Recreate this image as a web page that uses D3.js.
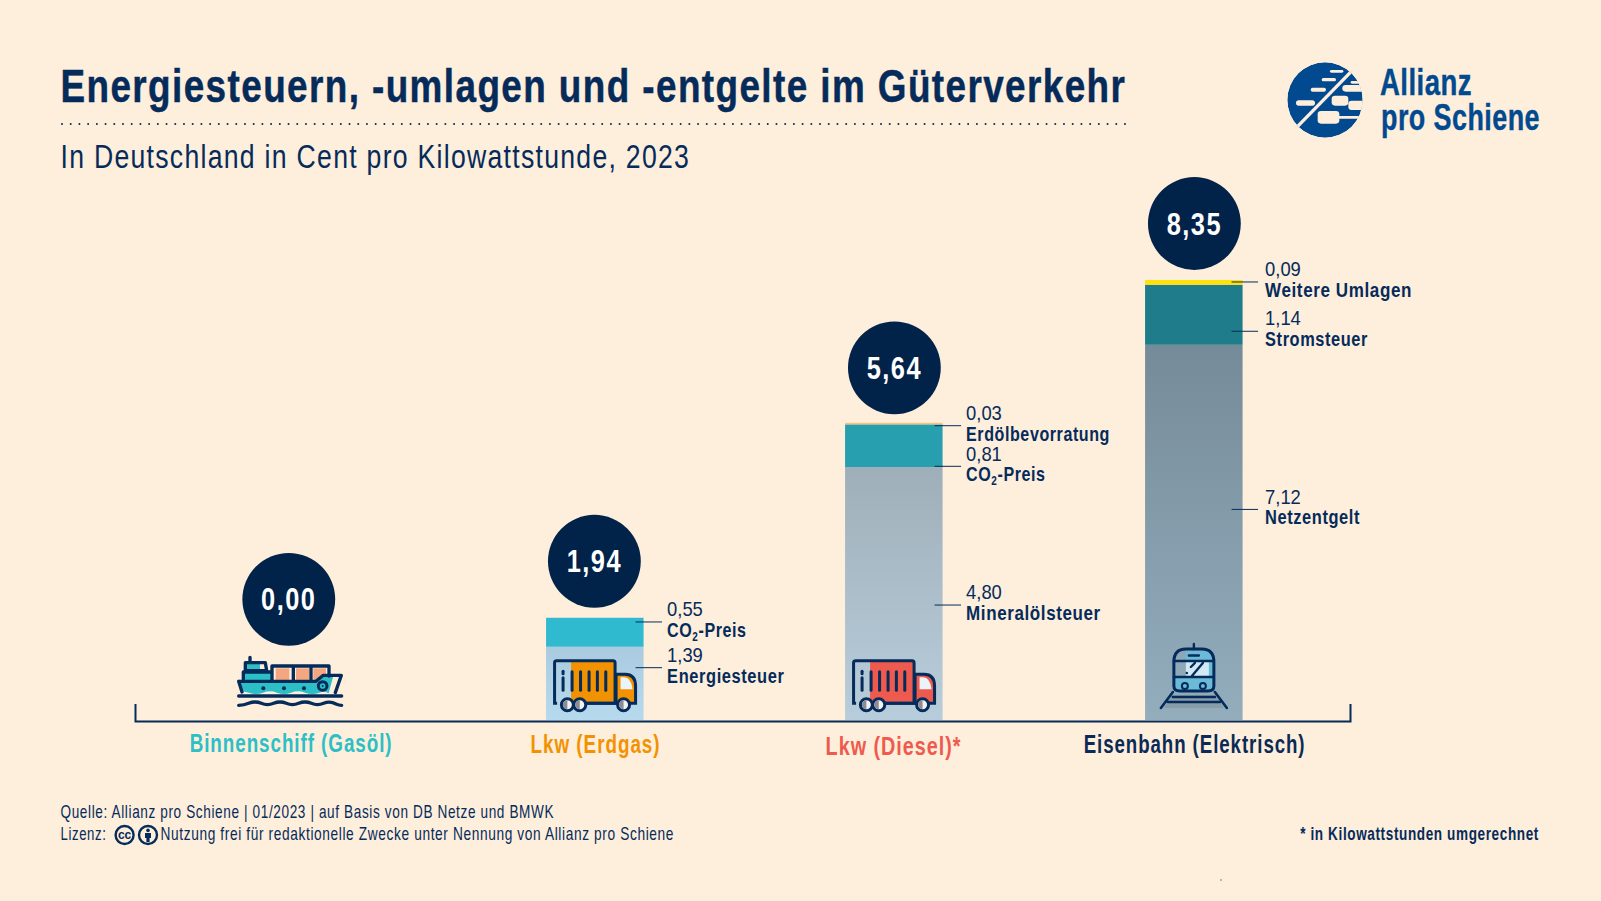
<!DOCTYPE html>
<html lang="de">
<head>
<meta charset="utf-8">
<title>Energiesteuern im Güterverkehr</title>
<script src="https://cdn.jsdelivr.net/npm/d3@7"></script>
<style>
  html, body { margin: 0; padding: 0; background: #feeedc; }
  svg { display: block; }
  text { font-family: "Liberation Sans", sans-serif; }
</style>
</head>
<body>
<div id="chart"></div>
<script>
// data
// ------------------------------
var categories = ["Binnenschiff (Gasöl)", "Lkw (Erdgas)", "Lkw (Diesel)*", "Eisenbahn (Elektrisch)"];
var totals = [0.00, 1.94, 5.64, 8.35];

var erdgasNames = ["Energiesteuer", "CO2-Preis"];
var erdgasValues = [1.39, 0.55];

var dieselNames = ["Mineralölsteuer", "CO2-Preis", "Erdölbevorratung"];
var dieselValues = [4.80, 0.81, 0.03];

var bahnNames = ["Netzentgelt", "Stromsteuer", "Weitere Umlagen"];
var bahnValues = [7.12, 1.14, 0.09];

// styles and label placement, bottom segment first
// ------------------------------
var navy = "#052b5a", circleNavy = "#012249", cream = "#feeedc", logoBlue = "#024a8f";
var categoryColors = ["#2cbfc5", "#f39200", "#ee5a4d", "#0b2a55"];
var stacks = [
    null,
    {names: erdgasNames, values: erdgasValues, grad: ["#aacbdf", "#b7d9ee"], fills: ["url(#grad1)", "#2fbacf"],
        leaderShift: [-15.7, -10.3], nameWidths: [117.4, 79.6], barNudge: 1, leaderDx: 0, textDx: 0},
    {names: dieselNames, values: dieselValues, grad: ["#9fafb9", "#b8cddb"], fills: ["url(#grad2)", "#279fae", "#f8c27c"],
        leaderShift: [11.5, 20.6, 2.1], nameWidths: [134.8, 79.6, 144], barNudge: 0, leaderDx: 0, textDx: 0},
    {names: bahnNames, values: bahnValues, grad: ["#768b99", "#93adbd"], fills: ["url(#grad3)", "#1f7c8b", "#ffe10e"],
        leaderShift: [-23, 16.5, -0.4], nameWidths: [95, 103, 147], barNudge: 0, leaderDx: -3, textDx: -1}
];
var circleLift = [120.7, 56.5, 55, 56.5];

var width = 1601, height = 901;
var deNumber = d3.formatLocale({decimal: ",", thousands: ".", grouping: [3], currency: ["", "€"]}).format(".2f");

var svg = d3.select("#chart").append("svg").attr("width", width).attr("height", height);
svg.append("rect").attr("width", width).attr("height", height).attr("fill", cream);
var defs = svg.append("defs");

// no condensed font on the machine: squeeze the text horizontally to the wanted width
function fit(sel, w, track, px, py) {
    sel.attr("letter-spacing", track).attr("x", 0).attr("y", 0).attr("dy", 0).attr("dx", 0);
    var sx = w / sel.node().getComputedTextLength();
    sel.attr("transform", "translate(" + px + "," + py + ") scale(" + sx + ",1)");
    return sel;
}

function label(x, y, txt, size, weight, color, w, track, anchor) {
    var t = svg.append("text").attr("font-size", size).attr("font-weight", weight)
        .attr("fill", color).attr("text-anchor", anchor || "start").text(txt);
    return fit(t, w, track, x, y);
}

// scales
// ------------------------------
var x = d3.scalePoint().domain(categories).range([135, 1350]).padding(0.525).align(0.505);
var y = d3.scaleLinear().domain([0, 8.35]).range([720, 280]);
var barWidth = 97.5;

// head
// ------------------------------
label(60.5, 102, "Energiesteuern, -umlagen und -entgelte im Güterverkehr", 47, "bold", navy, 1066, 1.8)
    .attr("stroke", navy).attr("stroke-width", 0.5);
svg.append("line").attr("x1", 62).attr("x2", 1125.5).attr("y1", 124).attr("y2", 124)
    .attr("stroke", navy).attr("stroke-width", 2).attr("stroke-linecap", "round").attr("stroke-dasharray", "0 8.713");
label(60.5, 168, "In Deutschland in Cent pro Kilowattstunde, 2023", 33.5, "normal", navy, 630, 1.6);

// logo
// ------------------------------
var logo = svg.append("g").attr("transform", "translate(1280,55) scale(0.3333)");
logo.append("clipPath").attr("id", "logoClip").append("circle").attr("cx", 135).attr("cy", 135).attr("r", 113);
var logoIn = logo.append("g").attr("clip-path", "url(#logoClip)");
logoIn.append("circle").attr("cx", 135).attr("cy", 135).attr("r", 113).attr("fill", logoBlue);
[[150, 45, 40, 8], [125, 69, 43, 10], [92, 98, 46, 12], [48, 136, 57, 16],
 [212, 78, 40, 8], [187, 90, 70, 20], [155, 122, 50, 30], [205, 137, 50, 28],
 [113, 168, 65, 38], [170, 183, 80, 8]].forEach(function(r) {
    logoIn.append("rect").attr("x", r[0]).attr("y", r[1]).attr("width", r[2]).attr("height", r[3])
        .attr("rx", Math.min(r[3] / 2, 10)).attr("fill", cream);
});
logoIn.append("line").attr("x1", 220).attr("y1", 43).attr("x2", 50).attr("y2", 217)
    .attr("stroke", cream).attr("stroke-width", 10);
label(1380, 95, "Allianz", 37, "bold", logoBlue, 92, 0.6).attr("stroke", logoBlue).attr("stroke-width", 0.4);
label(1381, 130, "pro Schiene", 37, "bold", logoBlue, 159, 0.6).attr("stroke", logoBlue).attr("stroke-width", 0.4);

// stacked bars
// ------------------------------
stacks.forEach(function(stack, i) {
    if (!stack) return;
    var g = defs.append("linearGradient").attr("id", "grad" + i).attr("x1", 0).attr("x2", 0).attr("y1", 0).attr("y2", 1);
    g.append("stop").attr("offset", 0).attr("stop-color", stack.grad[0]);
    g.append("stop").attr("offset", 1).attr("stop-color", stack.grad[1]);

    var tops = Array.from(d3.cumsum(stack.values));
    var left = x(categories[i]) - 49 + stack.barNudge;
    var barRight = left + barWidth;
    var textX = barRight + 23.5 + stack.textDx;

    var segs = svg.append("g").selectAll("g").data(stack.values).join("g");
    segs.append("rect")
        .attr("x", left)
        .attr("width", barWidth)
        .attr("y", function(d, k) { return y(tops[k]); })
        .attr("height", function(d) { return y(0) - y(d); })
        .attr("fill", function(d, k) { return stack.fills[k]; });

    // leader line, number and name, placed from the middle of each segment
    var ly = function(k) { return y(tops[k] - stack.values[k] / 2) + stack.leaderShift[k]; };
    segs.append("line")
        .attr("x1", barRight - 8 + stack.leaderDx).attr("x2", barRight + 18.5 + stack.leaderDx)
        .attr("y1", function(d, k) { return ly(k); }).attr("y2", function(d, k) { return ly(k); })
        .attr("stroke", navy).attr("stroke-width", 1);
    segs.append("text")
        .attr("transform", function(d, k) { return "translate(" + textX + "," + (ly(k) - 5.8) + ") scale(0.875,1)"; })
        .attr("font-size", 21).attr("fill", navy)
        .text(function(d) { return deNumber(d); });
    segs.append("text")
        .attr("font-size", 21).attr("font-weight", "bold").attr("fill", navy)
        .each(function(d, k) {
            var name = stack.names[k], t = d3.select(this);
            if (name.indexOf("CO2") === 0) {
                t.append("tspan").text("CO");
                t.append("tspan").attr("font-size", 13).attr("dy", 4).text("2");
                t.append("tspan").attr("dy", -4).text(name.slice(3));
            } else {
                t.text(name);
            }
            fit(t, stack.nameWidths[k], 0.75, textX, ly(k) + 15);
        });
});

// total circles
// ------------------------------
var circles = svg.append("g").selectAll("g").data(totals).join("g")
    .attr("transform", function(d, i) {
        var nudge = i === 0 ? -5.3 : 0.3;
        return "translate(" + (x(categories[i]) + nudge) + "," + (y(d) - circleLift[i]) + ")";
    });
circles.append("circle").attr("r", 46.4).attr("fill", circleNavy);
circles.append("text").attr("text-anchor", "middle").attr("transform", "translate(0,11) scale(0.82,1)")
    .attr("font-size", 31).attr("font-weight", "bold").attr("fill", "#fff").attr("letter-spacing", 1.8)
    .text(function(d) { return deNumber(d); });

// axis
// ------------------------------
var axis = svg.append("g").attr("transform", "translate(0,721)")
    .call(d3.axisBottom(x).tickSize(0).tickSizeOuter(-17));
axis.attr("font-family", null);
axis.select(".domain").attr("stroke", navy).attr("stroke-width", 2).attr("fill", "none");
var labelNudge = [[-3.5, 0.5], [1, 1], [-1, 3.5], [0, 1]];
var labelWidths = [203, 130, 136, 222];
axis.selectAll(".tick text").each(function(d, i) {
    var t = d3.select(this).attr("font-size", 26).attr("font-weight", "bold").attr("fill", categoryColors[i]);
    fit(t, labelWidths[i], 1.3, labelNudge[i][0], 30.7 + labelNudge[i][1]);
});

// icons
// ------------------------------
function truck(cx, color) {
    var t = svg.append("g").attr("transform", "translate(" + (cx - 41.6) + ",659.3)");
    t.append("rect").attr("x", 18).attr("y", 1.5).attr("width", 44).attr("height", 41).attr("fill", color);
    t.append("path").attr("d", "M63 15H72Q82.5 15 82.5 27V44H63Z").attr("fill", color).attr("stroke", navy).attr("stroke-width", 3);
    t.append("path").attr("d", "M67.5 18H71Q78 18 79.5 30H67.5Z").attr("fill", "#eaf4f9");
    t.append("path").attr("d", "M4 44H1.5V3.5Q1.5 1.5 3.5 1.5H60Q62 1.5 62 3.5V44H30")
        .attr("fill", "none").attr("stroke", navy).attr("stroke-width", 3);
    t.append("line").attr("x1", 10).attr("x2", 10).attr("y1", 12).attr("y2", 14.5)
        .attr("stroke", navy).attr("stroke-width", 3).attr("stroke-linecap", "round");
    t.append("line").attr("x1", 10).attr("x2", 10).attr("y1", 18.5).attr("y2", 31)
        .attr("stroke", navy).attr("stroke-width", 3).attr("stroke-linecap", "round");
    [19, 27.5, 36, 44.3, 52.7].forEach(function(bx) {
        t.append("line").attr("x1", bx).attr("x2", bx).attr("y1", 12.5).attr("y2", 31)
            .attr("stroke", navy).attr("stroke-width", 3).attr("stroke-linecap", "round");
    });
    t.append("line").attr("x1", 30).attr("x2", 62).attr("y1", 44).attr("y2", 44).attr("stroke", navy).attr("stroke-width", 3);
    [14.3, 26.7, 70.5].forEach(function(wx) {
        t.append("circle").attr("cx", wx).attr("cy", 45.5).attr("r", 6).attr("fill", "#f2f2f2").attr("stroke", navy).attr("stroke-width", 3);
        t.append("path").attr("d", "M" + wx + " 41A4.5 4.5 0 0 0 " + wx + " 50Z").attr("fill", "#8d8c96");
    });
}
truck(x(categories[1]) + 0.6, categoryColors[1]);
truck(x(categories[2]) - 0.4, categoryColors[2]);

// ship, drawn in 3x units
var ship = svg.append("g").attr("transform", "translate(230,650) scale(0.3333)");
var shipLine = function(d, w) {
    ship.append("path").attr("d", d).attr("fill", "none").attr("stroke", navy).attr("stroke-width", w || 10)
        .attr("stroke-linecap", "round").attr("stroke-linejoin", "round");
};
ship.append("rect").attr("x", 46).attr("y", 40).attr("width", 44).attr("height", 22).attr("fill", "#2cbfc5");
ship.append("rect").attr("x", 42).attr("y", 66).attr("width", 84).attr("height", 28).attr("fill", "#2cbfc5");
[[137, 41], [198, 39], [250, 38]].forEach(function(b) {
    ship.append("rect").attr("x", b[0]).attr("y", 55).attr("width", b[1]).attr("height", 38).attr("fill", "#f4a77f");
});
ship.append("path").attr("d", "M28 96H260L282 78H310L296 130Q285 122 268 128Q247 136 225 128Q204 120 183 128Q162 136 141 128Q120 120 99 128Q78 136 57 128L38 124Z").attr("fill", "#2cbfc5");
shipLine("M60 22V38 M46 62V38H106L110 62H46 M40 92V66H126V92 M126 92V48H297V78 M190 48V92 M243 48V92");
shipLine("M26 94H258L280 76H334L316 128 M26 94L36 126");
[100, 162, 222].forEach(function(px) {
    ship.append("circle").attr("cx", px).attr("cy", 115).attr("r", 6).attr("fill", navy);
});
ship.append("circle").attr("cx", 278).attr("cy", 108).attr("r", 13).attr("fill", "#2cbfc5").attr("stroke", navy).attr("stroke-width", 9);
ship.append("circle").attr("cx", 278).attr("cy", 108).attr("r", 3).attr("fill", navy);
shipLine("M26 138H335", 10);
shipLine("M26 166Q42 166 56 160Q75 152 94 160Q112 168 131 160Q150 152 169 160Q187 168 206 160Q225 152 244 160Q262 168 281 160Q300 152 318 162Q327 166 335 166", 10);

// train
var train = svg.append("g").attr("transform", "translate(" + (x(categories[3]) - 0.2) + ",644)");
train.append("path").attr("d", "M-30 64L-22 51H22L30 64Z").attr("fill", "#82939f").attr("opacity", 0.6);
train.append("path").attr("d", "M-8 7H13Q20 7 20 17V33H-8Z").attr("fill", "#6bbbd8");
train.append("path").attr("d", "M-8 17H15V33H-8Z").attr("fill", "#d2e8f4");
train.append("path").attr("d", "M-20 33H20V42Q20 47 14 47H-14Q-20 47 -20 42Z").attr("fill", "#6bbbd8");
train.append("path").attr("d", "M0 0V5 M-20 17H20 M-20 33H20 M-5 11.5H5 M9 19L-2 32 M-7 29H-7.1 M-3 23L1 19")
    .attr("fill", "none").attr("stroke", navy).attr("stroke-width", 2.4).attr("stroke-linecap", "round");
train.append("path").attr("d", "M-20 18Q-20 5 -8 5H8Q20 5 20 18V42Q20 47 14 47H-14Q-20 47 -20 42Z")
    .attr("fill", "none").attr("stroke", navy).attr("stroke-width", 3);
[-9, 9].forEach(function(hx) {
    train.append("circle").attr("cx", hx).attr("cy", 42).attr("r", 3).attr("fill", "none").attr("stroke", navy).attr("stroke-width", 2);
});
train.append("path").attr("d", "M-21 48L-33 64 M21 48L33 64 M-21 53H21 M-26 58H26")
    .attr("fill", "none").attr("stroke", navy).attr("stroke-width", 2.6).attr("stroke-linecap", "round");

// footer
// ------------------------------
label(60.5, 818, "Quelle: Allianz pro Schiene | 01/2023 | auf Basis von DB Netze und BMWK", 17.5, "normal", navy, 494, 0.8);
label(60.5, 840, "Lizenz:", 17.5, "normal", navy, 46, 0.8);
label(160.5, 840, "Nutzung frei für redaktionelle Zwecke unter Nennung von Allianz pro Schiene", 17.5, "normal", navy, 514, 0.8);
label(1539, 840, "* in Kilowattstunden umgerechnet", 17.5, "bold", navy, 239, 0.8, "end");

var cc = svg.append("g").attr("transform", "translate(124.6,835)");
cc.append("circle").attr("r", 9).attr("fill", "none").attr("stroke", navy).attr("stroke-width", 2.4);
cc.append("text").attr("text-anchor", "middle").attr("y", 3.5).attr("font-size", 12).attr("font-weight", "bold").attr("fill", navy).text("cc");
var by = svg.append("g").attr("transform", "translate(148,835)");
by.append("circle").attr("r", 9).attr("fill", "none").attr("stroke", navy).attr("stroke-width", 2.4);
by.append("circle").attr("cy", -4.6).attr("r", 1.8).attr("fill", navy);
by.append("path").attr("d", "M-3 -2H3V3H1.6V7H-1.6V3H-3Z").attr("fill", navy);
svg.append("circle").attr("cx", 1221).attr("cy", 880).attr("r", 0.8).attr("fill", "#8a6a50");
</script>
</body>
</html>
